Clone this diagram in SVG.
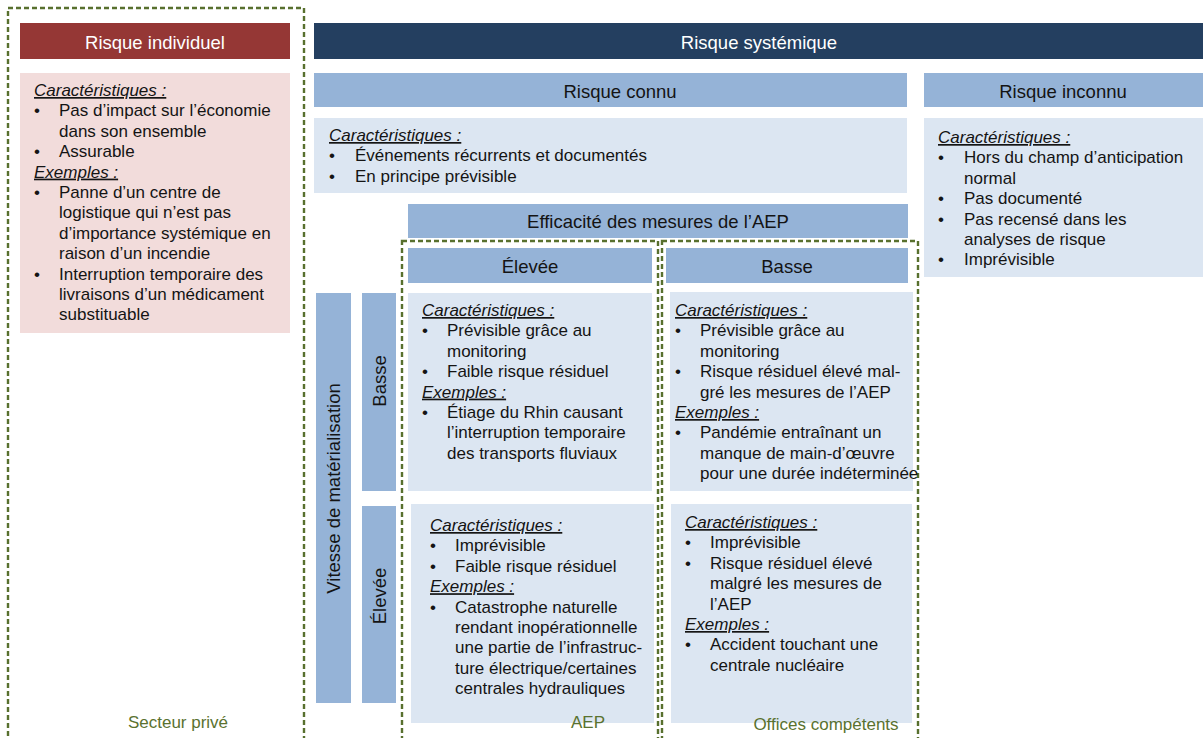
<svg xmlns="http://www.w3.org/2000/svg" width="1203" height="738" viewBox="0 0 1203 738">
<style>
text{font-family:"Liberation Sans",Arial,sans-serif;fill:#141414}
.b{font-size:17px}
.h{font-size:18.5px;text-anchor:middle}
.w{fill:#ffffff}
.lbl{font-style:italic;text-decoration:underline}
.grp{fill:none;stroke:#58702e;stroke-width:2.4;stroke-dasharray:5 3}
.gl{font-size:17px;fill:#5a722f;text-anchor:middle}
.red{fill:#953735}
.pink{fill:#f2dcdb}
.navy{fill:#243f60}
.mid{fill:#95b3d7}
.lt{fill:#dce6f2}
</style>
<rect width="1203" height="738" fill="#ffffff"/>

<g id="containers">
<rect class="grp" x="8" y="8" width="296" height="740"/>
<rect class="grp" x="402" y="241" width="256" height="510"/>
<rect class="grp" x="662" y="241" width="256" height="510"/>
</g>

<g id="connectors"></g>

<g id="risque-individuel">
<rect class="red" x="20" y="23" width="270" height="36"/>
<text class="h w" x="155" y="48.5">Risque individuel</text>
</g>
<g id="individuel-details">
<rect class="pink" x="20" y="73" width="270" height="260"/>
<text class="b">
<tspan class="lbl" x="34" y="96">Caractéristiques :</tspan>
<tspan x="34" y="116.4">•</tspan><tspan x="59" y="116.4">Pas d’impact sur l’économie</tspan>
<tspan x="59" y="136.8">dans son ensemble</tspan>
<tspan x="34" y="157.2">•</tspan><tspan x="59" y="157.2">Assurable</tspan>
<tspan class="lbl" x="34" y="177.6">Exemples :</tspan>
<tspan x="34" y="198">•</tspan><tspan x="59" y="198">Panne d’un centre de</tspan>
<tspan x="59" y="218.4">logistique qui n’est pas</tspan>
<tspan x="59" y="238.8">d’importance systémique en</tspan>
<tspan x="59" y="259.2">raison d’un incendie</tspan>
<tspan x="34" y="279.6">•</tspan><tspan x="59" y="279.6">Interruption temporaire des</tspan>
<tspan x="59" y="300">livraisons d’un médicament</tspan>
<tspan x="59" y="320.4">substituable</tspan>
</text>
</g>

<g id="risque-systemique">
<rect class="navy" x="314" y="23" width="889" height="36"/>
<text class="h w" x="759" y="48.5">Risque systémique</text>
</g>

<g id="risque-connu">
<rect class="mid" x="314" y="73" width="593" height="34"/>
<text class="h" x="620" y="97.5">Risque connu</text>
</g>
<g id="connu-details">
<rect class="lt" x="314" y="118" width="593" height="75"/>
<text class="b">
<tspan class="lbl" x="329" y="141">Caractéristiques :</tspan>
<tspan x="329" y="161.4">•</tspan><tspan x="355" y="161.4">Événements récurrents et documentés</tspan>
<tspan x="329" y="181.8">•</tspan><tspan x="355" y="181.8">En principe prévisible</tspan>
</text>
</g>

<g id="risque-inconnu">
<rect class="mid" x="924" y="73" width="279" height="34"/>
<text class="h" x="1063" y="97.5">Risque inconnu</text>
</g>
<g id="inconnu-details">
<rect class="lt" x="924" y="118" width="279" height="159"/>
<text class="b">
<tspan class="lbl" x="938" y="143">Caractéristiques :</tspan>
<tspan x="938" y="163.4">•</tspan><tspan x="964" y="163.4">Hors du champ d’anticipation</tspan>
<tspan x="964" y="183.8">normal</tspan>
<tspan x="938" y="204.2">•</tspan><tspan x="964" y="204.2">Pas documenté</tspan>
<tspan x="938" y="224.6">•</tspan><tspan x="964" y="224.6">Pas recensé dans les</tspan>
<tspan x="964" y="245">analyses de risque</tspan>
<tspan x="938" y="265.4">•</tspan><tspan x="964" y="265.4">Imprévisible</tspan>
</text>
</g>

<g id="efficacite">
<rect class="mid" x="408" y="204" width="500" height="34"/>
<text class="h" x="658" y="227.5">Efficacité des mesures de l’AEP</text>
</g>
<g id="eff-elevee">
<rect class="mid" x="408" y="248" width="244" height="35"/>
<text class="h" x="530" y="272.5">Élevée</text>
</g>
<g id="eff-basse">
<rect class="mid" x="666" y="248" width="242" height="35"/>
<text class="h" x="787" y="272.5">Basse</text>
</g>

<g id="vitesse">
<rect class="mid" x="316" y="293" width="35" height="410"/>
<text class="h" transform="translate(339.5 488.5) rotate(-90)" x="0" y="0">Vitesse de matérialisation</text>
</g>
<g id="vit-basse">
<rect class="mid" x="362" y="293" width="34" height="198"/>
<text class="h" transform="translate(385.5 381) rotate(-90)" x="0" y="0">Basse</text>
</g>
<g id="vit-elevee">
<rect class="mid" x="362" y="506" width="34" height="197"/>
<text class="h" transform="translate(385.5 596) rotate(-90)" x="0" y="0">Élevée</text>
</g>

<g id="cell-elevee-basse">
<rect class="lt" x="408" y="293" width="244" height="198"/>
<text class="b">
<tspan class="lbl" x="422" y="316">Caractéristiques :</tspan>
<tspan x="422" y="336.4">•</tspan><tspan x="447" y="336.4">Prévisible grâce au</tspan>
<tspan x="447" y="356.8">monitoring</tspan>
<tspan x="422" y="377.2">•</tspan><tspan x="447" y="377.2">Faible risque résiduel</tspan>
<tspan class="lbl" x="422" y="397.6">Exemples :</tspan>
<tspan x="422" y="418">•</tspan><tspan x="447" y="418">Étiage du Rhin causant</tspan>
<tspan x="447" y="438.4">l’interruption temporaire</tspan>
<tspan x="447" y="458.8">des transports fluviaux</tspan>
</text>
</g>

<g id="cell-basse-basse">
<rect class="lt" x="670" y="292" width="243" height="199"/>
<text class="b">
<tspan class="lbl" x="675" y="316">Caractéristiques :</tspan>
<tspan x="675" y="336.4">•</tspan><tspan x="700" y="336.4">Prévisible grâce au</tspan>
<tspan x="700" y="356.8">monitoring</tspan>
<tspan x="675" y="377.2">•</tspan><tspan x="700" y="377.2">Risque résiduel élevé mal-</tspan>
<tspan x="700" y="397.6">gré les mesures de l’AEP</tspan>
<tspan class="lbl" x="675" y="418">Exemples :</tspan>
<tspan x="675" y="438.4">•</tspan><tspan x="700" y="438.4">Pandémie entraînant un</tspan>
<tspan x="700" y="458.8">manque de main-d’œuvre</tspan>
<tspan x="700" y="479.2">pour une durée indéterminée</tspan>
</text>
</g>

<g id="cell-elevee-elevee">
<rect class="lt" x="411" y="504" width="243" height="219"/>
<text class="b">
<tspan class="lbl" x="430" y="531">Caractéristiques :</tspan>
<tspan x="430" y="551.4">•</tspan><tspan x="455" y="551.4">Imprévisible</tspan>
<tspan x="430" y="571.8">•</tspan><tspan x="455" y="571.8">Faible risque résiduel</tspan>
<tspan class="lbl" x="430" y="592.2">Exemples :</tspan>
<tspan x="430" y="612.6">•</tspan><tspan x="455" y="612.6">Catastrophe naturelle</tspan>
<tspan x="455" y="633">rendant inopérationnelle</tspan>
<tspan x="455" y="653.4">une partie de l’infrastruc-</tspan>
<tspan x="455" y="673.8">ture électrique/certaines</tspan>
<tspan x="455" y="694.2">centrales hydrauliques</tspan>
</text>
</g>

<g id="cell-basse-elevee">
<rect class="lt" x="671" y="504" width="241" height="219"/>
<text class="b">
<tspan class="lbl" x="685" y="528">Caractéristiques :</tspan>
<tspan x="685" y="548.4">•</tspan><tspan x="710" y="548.4">Imprévisible</tspan>
<tspan x="685" y="568.8">•</tspan><tspan x="710" y="568.8">Risque résiduel élevé</tspan>
<tspan x="710" y="589.2">malgré les mesures de</tspan>
<tspan x="710" y="609.6">l’AEP</tspan>
<tspan class="lbl" x="685" y="630">Exemples :</tspan>
<tspan x="685" y="650.4">•</tspan><tspan x="710" y="650.4">Accident touchant une</tspan>
<tspan x="710" y="670.8">centrale nucléaire</tspan>
</text>
</g>

<g id="group-labels">
<text class="gl" x="178" y="728">Secteur privé</text>
<text class="gl" x="588" y="728">AEP</text>
<text class="gl" x="826" y="730">Offices compétents</text>
</g>
</svg>
